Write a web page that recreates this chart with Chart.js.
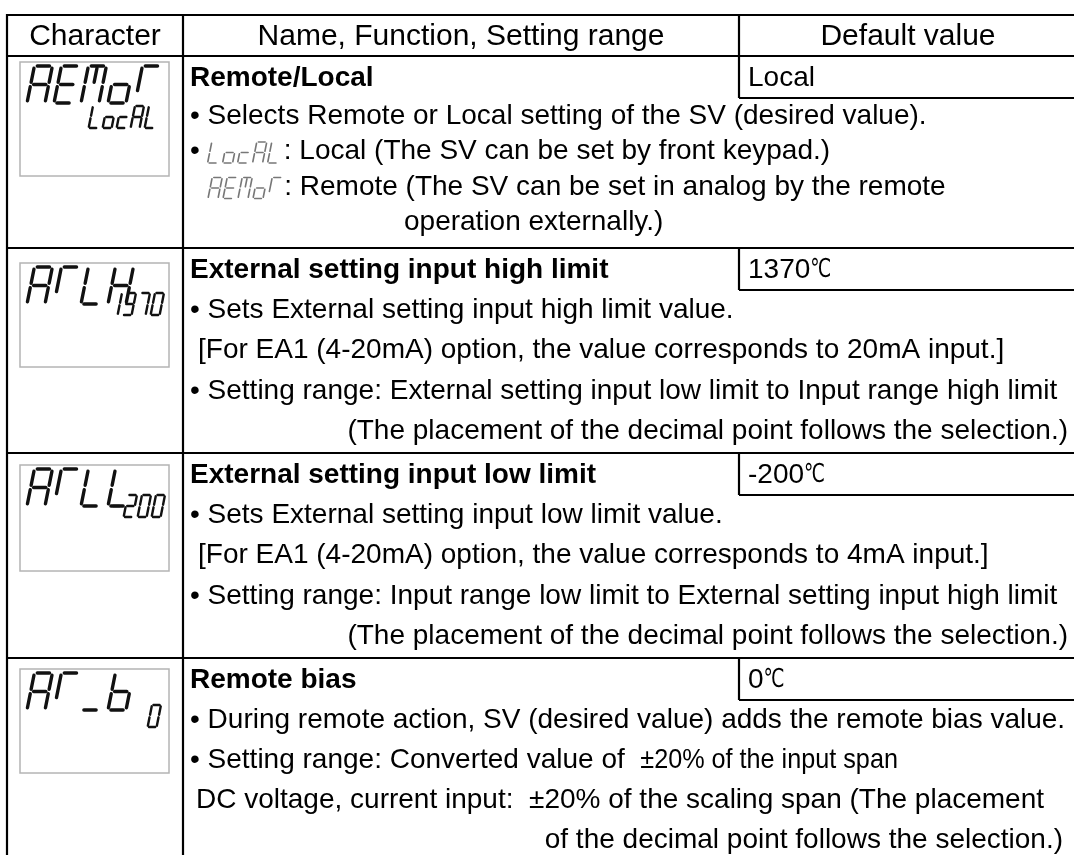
<!DOCTYPE html>
<html>
<head>
<meta charset="utf-8">
<script src="https://cdn.jsdelivr.net/npm/chart.js@4.4.1/dist/chart.umd.min.js"></script>
<style>
  html, body { margin: 0; padding: 0; background: #fff; }
  canvas { display: block; }
</style>
</head>
<body>
<canvas id="myChart" width="1074" height="855"></canvas>
<script>
// Table content
const headers = ["Character", "Name, Function, Setting range", "Default value"];
const displayCodes = ["REMoT", "RTLH", "RTLL", "RT_b"];
const displayValues = ["LocAL", "1370", "-200", "0"];
const itemNames = ["Remote/Local", "External setting input high limit", "External setting input low limit", "Remote bias"];
const defaultValues = ["Local", "1370℃", "-200℃", "0℃"];
const descriptions = [
    [
        "• Selects Remote or Local setting of the SV (desired value).",
        "• {LocAL}: Local (The SV can be set by front keypad.)",
        "{REMoT}: Remote (The SV can be set in analog by the remote",
        "operation externally.)"
    ],
    [
        "• Sets External setting input high limit value.",
        "[For EA1 (4-20mA) option, the value corresponds to 20mA input.]",
        "• Setting range: External setting input low limit to Input range high limit",
        "(The placement of the decimal point follows the selection.)"
    ],
    [
        "• Sets External setting input low limit value.",
        "[For EA1 (4-20mA) option, the value corresponds to 4mA input.]",
        "• Setting range: Input range low limit to External setting input high limit",
        "(The placement of the decimal point follows the selection.)"
    ],
    [
        "• During remote action, SV (desired value) adds the remote bias value.",
        "• Setting range: Converted value of  ±20% of the input span",
        "DC voltage, current input:  ±20% of the scaling span (The placement",
        "of the decimal point follows the selection.)"
    ]
];

// Layout
const W = 1074, H = 855;
const tableLeft = 7, col1 = 183, col2 = 739, tableRight = 1090;
const tableTop = 15, headerBottom = 56;
const rowTops = [56, 248, 453, 658];
const valueBoxH = 42;
const lcdBoxOffset = [6, 15, 12, 11];
const lcdBoxH = [114, 104, 106, 104];
const smallTop = [44, 30, 30, 36];
const smallRight = [158, 164, 165, 161];
const firstLineGap = [18, 20, 20, 20];
const linePitch = [35.5, 40.5, 40.5, 40];
const lineAnchors = [
    [{ x: 190 }, { x: 190 }, { x: 208 }, { x: 404 }],
    [{ x: 190 }, { x: 198 }, { x: 190 }, { right: 1068 }],
    [{ x: 190 }, { x: 198 }, { x: 190 }, { right: 1068 }],
    [{ x: 190 }, { x: 190 }, { x: 196 }, { right: 1063 }]
];
const narrowRun = "±20% of the input span";
const FONT = '"Liberation Sans", Arial, sans-serif';
const bodySize = 28, headerSize = 30;

// seven segment pieces, unit cell 1 wide x 2 high
const SEG = {
    a: [[0, 0], [1, 0]], b: [[1, 0], [1, 1]], c: [[1, 1], [1, 2]], d: [[0, 2], [1, 2]],
    e: [[0, 1], [0, 2]], f: [[0, 0], [0, 1]], g: [[0, 1], [1, 1]],
    m: [[0.5, 0], [0.5, 1]], t: [[0, 0], [0, 1.45]]
};
const GLYPH = {
    R: "abcefg", A: "abcefg", E: "adefg", M: "abcefm", o: "cdeg", T: "at", L: "def",
    H: "bcefg", _: "d", b: "cdefg", c: "deg", "1": "bc", "3": "abcdg", "7": "abc",
    "0": "abcdef", "2": "abdeg", "-": "g"
};
const bigLcd = { h: 37, w: 18, pitch: 27, lw: 3.4, slant: 0.2, color: "#111" };
const smallLcd = { h: 22, w: 9, pitch: 14, lw: 2.4, slant: 0.2, color: "#111" };
const inlineLcd = { h: 21, w: 10, pitch: 15, lw: 1.6, slant: 0.2, color: "#777" };

function lcdWidth(code, o) {
    return (code.length - 1) * o.pitch + o.w + o.h * o.slant;
}

function drawLcd(ctx, code, x, top, o) {
    ctx.save();
    ctx.strokeStyle = o.color;
    ctx.lineWidth = o.lw;
    ctx.lineCap = "round";
    const half = o.h / 2;
    const P = (cx, ux, uy) => [cx + ux * o.w + (2 - uy) * half * o.slant, top + uy * half];
    let cx = x;
    for (const ch of code) {
        for (const s of (GLYPH[ch] || "")) {
            const [[x1, y1], [x2, y2]] = SEG[s];
            const gap = y1 === y2 ? 0.16 : 0.12;
            const dx = x2 - x1, dy = y2 - y1;
            const len = Math.hypot(dx, dy);
            const p1 = P(cx, x1 + dx / len * gap, y1 + dy / len * gap);
            const p2 = P(cx, x2 - dx / len * gap, y2 - dy / len * gap);
            ctx.beginPath();
            ctx.moveTo(p1[0], p1[1]);
            ctx.lineTo(p2[0], p2[1]);
            ctx.stroke();
        }
        cx += o.pitch;
    }
    ctx.restore();
}

// split a line into text / lcd / narrow runs
function runsOf(line) {
    const runs = [];
    for (const part of line.split(/(\{[^}]+\})/)) {
        if (!part) continue;
        if (part[0] === "{") { runs.push({ lcd: part.slice(1, -1) }); continue; }
        const i = part.indexOf(narrowRun);
        if (i >= 0) {
            if (i > 0) runs.push({ text: part.slice(0, i) });
            runs.push({ text: narrowRun, sx: 0.9 });
            const rest = part.slice(i + narrowRun.length);
            if (rest) runs.push({ text: rest });
        } else {
            runs.push({ text: part });
        }
    }
    return runs;
}

function setFont(ctx, piece, size, bold) {
    if (piece === "℃") {
        ctx.font = `${size - 2}px "DejaVu Sans", sans-serif`;
        return 0.72;
    }
    ctx.font = `${bold ? "bold " : ""}${size}px ${FONT}`;
    return 1;
}

function textWidth(ctx, str, size, bold, sx) {
    let w = 0;
    for (const piece of str.split(/(℃)/)) {
        if (!piece) continue;
        const k = setFont(ctx, piece, size, bold) * sx;
        w += ctx.measureText(piece).width * k;
    }
    return w;
}

function drawText(ctx, str, x, y, size, bold, sx) {
    let cx = x;
    for (const piece of str.split(/(℃)/)) {
        if (!piece) continue;
        ctx.save();
        const k = setFont(ctx, piece, size, bold) * sx;
        const w = ctx.measureText(piece).width * k;
        ctx.translate(cx, y);
        ctx.scale(k, 1);
        ctx.fillText(piece, 0, 0);
        ctx.restore();
        cx += w;
    }
    return cx - x;
}

function runsWidth(ctx, runs, size) {
    let w = 0;
    for (const r of runs) {
        w += r.lcd ? lcdWidth(r.lcd, inlineLcd) + 2 : textWidth(ctx, r.text, size, false, r.sx || 1);
    }
    return w;
}

const tablePlugin = {
    id: "tablePlugin",
    beforeDraw(chart) {
        const ctx = chart.ctx;
        ctx.save();
        ctx.fillStyle = "#fff";
        ctx.fillRect(0, 0, chart.width, chart.height);
        ctx.restore();
    },
    afterDraw(chart) {
        const ctx = chart.ctx;
        const px = v => chart.scales.x.getPixelForValue(v);
        const py = v => chart.scales.y.getPixelForValue(v);
        const line = (x1, y1, x2, y2) => {
            ctx.beginPath();
            ctx.moveTo(px(x1), py(y1));
            ctx.lineTo(px(x2), py(y2));
            ctx.stroke();
        };
        ctx.save();
        ctx.textBaseline = "middle";
        ctx.fillStyle = "#000";

        // header
        const headerMid = (tableTop + headerBottom) / 2;
        const colCenters = [(tableLeft + col1) / 2, (col1 + col2) / 2, (col2 + 1077) / 2];
        headers.forEach((h, i) => {
            const w = textWidth(ctx, h, headerSize, false, 1);
            drawText(ctx, h, px(colCenters[i]) - w / 2, py(headerMid) + 1, headerSize, false, 1);
        });

        // rows
        itemNames.forEach((name, r) => {
            const top = rowTops[r];
            // lcd picture box
            const boxTop = top + lcdBoxOffset[r];
            ctx.save();
            ctx.strokeStyle = "#b4b4b4";
            ctx.lineWidth = 1.5;
            ctx.strokeRect(px(20), py(boxTop), px(169) - px(20), py(boxTop + lcdBoxH[r]) - py(boxTop));
            ctx.restore();
            drawLcd(ctx, displayCodes[r], px(27), py(boxTop + 4), bigLcd);
            const val = displayValues[r];
            drawLcd(ctx, val, px(smallRight[r]) - lcdWidth(val, smallLcd), py(boxTop + smallTop[r]), smallLcd);

            // title and default value
            const titleY = top + valueBoxH / 2 + 1;
            drawText(ctx, name, px(190), py(titleY), bodySize, true, 1);
            drawText(ctx, defaultValues[r], px(748), py(titleY), bodySize, false, 1);

            // description lines
            descriptions[r].forEach((ln, k) => {
                const y = py(top + valueBoxH + firstLineGap[r] + linePitch[r] * k);
                const runs = runsOf(ln);
                const anchor = lineAnchors[r][k];
                let x = anchor.x !== undefined ? px(anchor.x) : px(anchor.right) - runsWidth(ctx, runs, bodySize);
                for (const run of runs) {
                    if (run.lcd) {
                        drawLcd(ctx, run.lcd, x, y - inlineLcd.h / 2 + 1, inlineLcd);
                        x += lcdWidth(run.lcd, inlineLcd) + 2;
                    } else {
                        x += drawText(ctx, run.text, x, y, bodySize, false, run.sx || 1);
                    }
                }
            });
        });

        // grid lines
        ctx.strokeStyle = "#000";
        ctx.lineWidth = 2.2;
        line(tableLeft, tableTop, tableRight, tableTop);
        line(tableLeft, headerBottom, tableRight, headerBottom);
        line(tableLeft, tableTop - 1, tableLeft, H + 10);
        line(col1, tableTop, col1, H + 10);
        line(col2, tableTop, col2, headerBottom);
        rowTops.forEach((top, r) => {
            if (r > 0) line(tableLeft, top, tableRight, top);
            line(col2, top, col2, top + valueBoxH);
            line(col2, top + valueBoxH, tableRight, top + valueBoxH);
        });
        ctx.restore();
    }
};

const ctx = document.getElementById("myChart").getContext("2d");
const chart = new Chart(ctx, {
    type: "scatter",
    data: { datasets: [] },
    options: {
        responsive: false,
        animation: false,
        events: [],
        layout: { padding: 0 },
        plugins: { legend: { display: false }, tooltip: { enabled: false } },
        scales: {
            x: { type: "linear", min: 0, max: W, display: false },
            y: { type: "linear", min: 0, max: H, reverse: true, display: false }
        }
    },
    plugins: [tablePlugin]
});
</script>
</body>
</html>
